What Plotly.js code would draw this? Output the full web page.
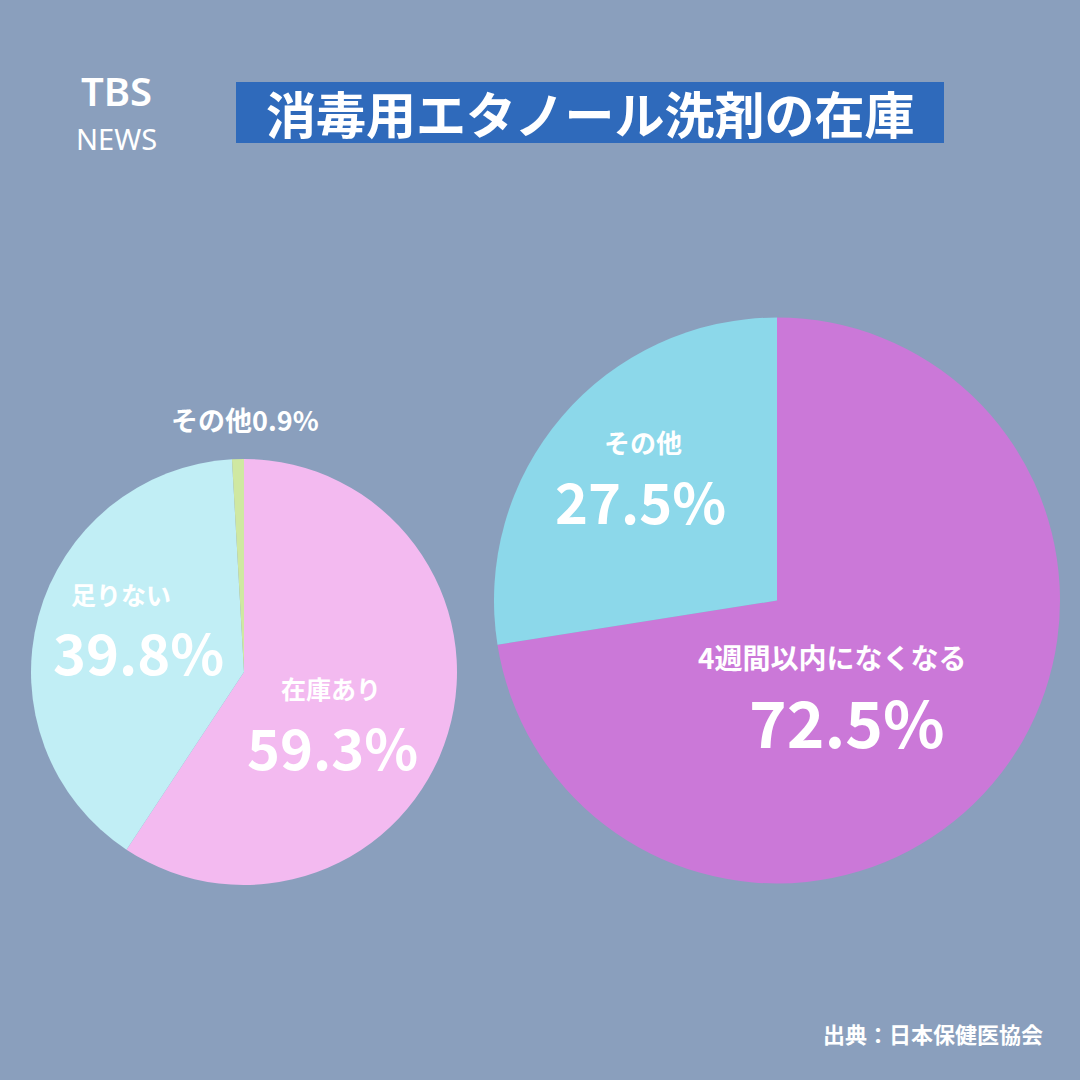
<!DOCTYPE html>
<html>
<head>
<meta charset="utf-8">
<script src="https://cdn.plot.ly/plotly-3.0.1.min.js"></script>
<style>
body { margin: 0; background: #8a9fbd; }
#chart { width: 1080px; height: 1080px; }
</style>
</head>
<body>
<div id="chart"></div>
<script>
// 在庫の状況
const stockLabels = ['在庫あり', '足りない', 'その他'];
const stockValues = [59.3, 39.8, 0.9];
const stockColors = ['#f3baf0', '#c1eef5', '#cfe8a2'];

// 在庫がなくなる時期
const runoutLabels = ['4週間以内になくなる', 'その他'];
const runoutValues = [72.5, 27.5];
const runoutColors = ['#cb78d8', '#8cd8ea'];

const titleText = '消毒用エタノール洗剤の在庫';
const sourceText = '出典：日本保健医協会';

const jp = '"Noto Sans CJK JP", "Noto Sans", sans-serif';
const W = 1080, H = 1080;
function px(x) { return x / W; }
function py(y) { return 1 - y / H; }

const data = [
  {
    type: 'pie',
    labels: stockLabels,
    values: stockValues,
    marker: { colors: stockColors, line: { width: 0 } },
    sort: false,
    direction: 'clockwise',
    rotation: 0,
    textinfo: 'none',
    hoverinfo: 'none',
    domain: { x: [px(31), px(457)], y: [py(885), py(459)] }
  },
  {
    type: 'pie',
    labels: runoutLabels,
    values: runoutValues,
    marker: { colors: runoutColors, line: { width: 0 } },
    sort: false,
    direction: 'clockwise',
    rotation: 0,
    textinfo: 'none',
    hoverinfo: 'none',
    domain: { x: [px(494), px(1060)], y: [py(884), py(317)] }
  }
];

function note(x, y, text, size, anchor, fam, weight) {
  return {
    xref: 'paper', yref: 'paper', x: px(x), y: py(y),
    text: text, showarrow: false,
    xanchor: anchor || 'center', yanchor: 'middle',
    font: { family: fam || jp, size: size, color: '#ffffff', weight: weight || 'bold' }
  };
}

const annotations = [
  note(116, 90, 'TBS', 40, 'center', '"Noto Sans", sans-serif', 600),
  note(116, 138, 'NEWS', 29, 'center', '"Noto Sans", sans-serif', 'normal'),
  note(590, 112, titleText, 50),
  note(245, 420, stockLabels[2] + stockValues[2] + '%', 27),
  note(121, 594, stockLabels[1], 25),
  note(138, 650, stockValues[1] + '%', 56),
  note(331, 688, stockLabels[0], 25),
  note(332, 745, stockValues[0] + '%', 56),
  note(643, 441, runoutLabels[1], 26),
  note(640, 499, runoutValues[1] + '%', 56),
  note(832, 657, runoutLabels[0], 28),
  note(847, 720, runoutValues[0] + '%', 64),
  note(1045, 1033, sourceText, 22, 'right')
];

const layout = {
  width: W, height: H,
  margin: { l: 0, r: 0, t: 0, b: 0 },
  paper_bgcolor: '#8a9fbd',
  showlegend: false,
  shapes: [{
    type: 'rect', xref: 'paper', yref: 'paper',
    x0: px(236), x1: px(944), y0: py(143), y1: py(82),
    fillcolor: '#2f6abb', line: { width: 0 }, layer: 'below'
  }],
  annotations: annotations
};

Plotly.newPlot('chart', data, layout, { displayModeBar: false, staticPlot: true });
</script>
</body>
</html>
